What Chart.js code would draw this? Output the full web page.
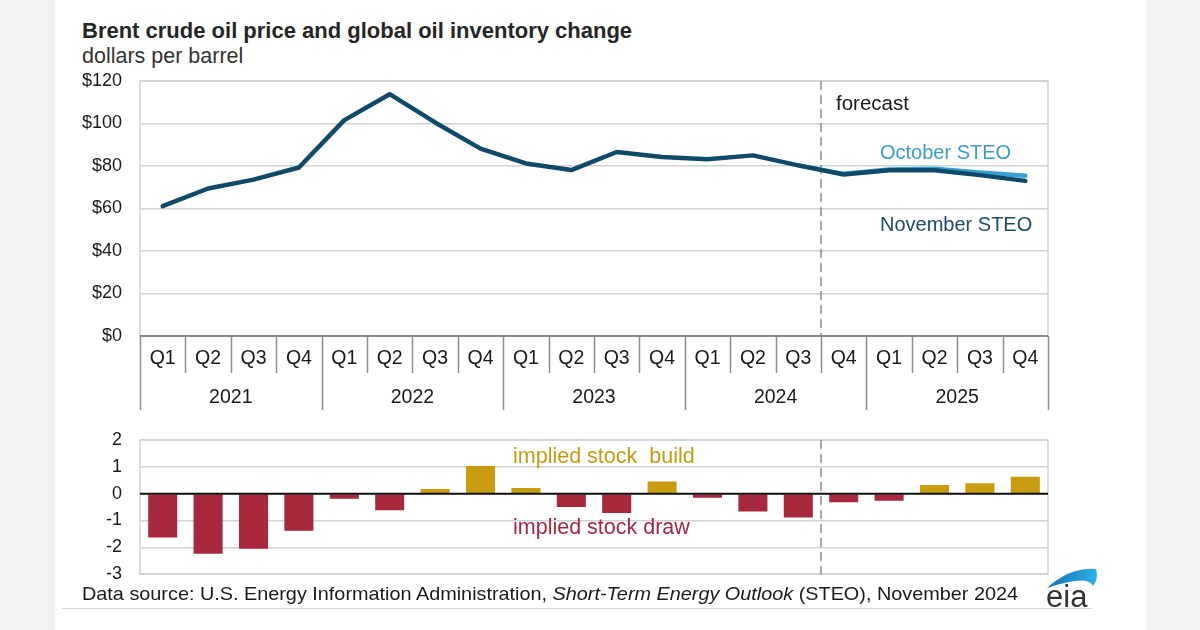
<!DOCTYPE html>
<html><head><meta charset="utf-8">
<script src="https://cdn.jsdelivr.net/npm/chart.js@4.4.1/dist/chart.umd.min.js"></script>
<style>
html,body{margin:0;padding:0;}
body{width:1200px;height:630px;background:#f2f2f2;position:relative;overflow:hidden;font-family:"Liberation Sans",Arial,sans-serif;}
#panel{position:absolute;left:55px;top:0;width:1092px;height:630px;background:#fff;}
canvas{position:absolute;left:0;}
.t{position:absolute;white-space:nowrap;line-height:1;}
</style></head><body>
<div id="panel"></div>
<div class="t" style="left:82px;top:20px;font-weight:bold;font-size:22px;color:#262626">Brent crude oil price and global oil inventory change</div>
<div class="t" style="left:82px;top:46px;font-size:21.5px;color:#333">dollars per barrel</div>
<canvas id="top" width="1200" height="420" style="top:0"></canvas>
<canvas id="bot" width="1200" height="160" style="top:425px"></canvas>
<div class="t" style="left:836px;top:93px;font-size:20.5px;color:#1a1a1a">forecast</div>
<div class="t" style="left:880px;top:142px;font-size:20px;color:#3d9cc9">October STEO</div>
<div class="t" style="left:880px;top:214px;font-size:20px;color:#1d4b68">November STEO</div>
<div class="t" style="left:513px;top:446px;font-size:21.5px;color:#c39c12">implied stock&nbsp; build</div>
<div class="t" style="left:513px;top:517px;font-size:21.5px;color:#a3293d">implied stock draw</div>
<div class="t" id="src" style="left:82px;top:584px;font-size:19px;color:#1a1a1a;transform-origin:0 0">Data source: U.S. Energy Information Administration, <i>Short-Term Energy Outlook</i> (STEO), November 2024</div>
<div style="position:absolute;left:62px;top:608px;width:1030px;height:1px;background:#d8d8d8"></div>
<svg style="position:absolute;left:1030px;top:555px" width="80" height="60">
 <defs><linearGradient id="g" x1="0" x2="1"><stop offset="0" stop-color="#1a6fb5"/><stop offset="1" stop-color="#2bb0e6"/></linearGradient></defs>
 <path d="M17,33 Q40,12 66,14 Q69,23 63,31 Q58,19 17,33 Z" fill="url(#g)"/>
 <text x="16" y="52" font-family="Liberation Sans, Arial" font-size="31" fill="#333">eia</text>
</svg>
<script>
const quarters = ['Q1','Q2','Q3','Q4','Q1','Q2','Q3','Q4','Q1','Q2','Q3','Q4','Q1','Q2','Q3','Q4','Q1','Q2','Q3','Q4'];
const years = ['2021','2022','2023','2024','2025'];
const priceTicks = [0,20,40,60,80,100,120];
const novemberSTEO = [61.1,69.4,73.6,79.3,101.6,113.8,100.5,88.2,81.2,78.1,86.6,84.2,83.2,85.0,80.3,76.0,78.0,78.0,75.7,73.0];
const octoberSTEO = [null,null,null,null,null,null,null,null,null,null,null,null,null,null,80.3,76.3,78.4,78.7,77.0,75.4];
const inventoryChange = [-1.63,-2.24,-2.05,-1.38,-0.19,-0.62,0.17,1.03,0.21,-0.50,-0.72,0.45,-0.15,-0.66,-0.89,-0.32,-0.26,0.32,0.39,0.63];
const forecastStart = 15;

const YFONT = {family:'"Liberation Sans", Arial, sans-serif', size:18};
const XFONT = {family:'"Liberation Sans", Arial, sans-serif', size:19.5};
const PLOT_LEFT = 140, PLOT_RIGHT = 1048;

const src = document.getElementById('src');
const sw = src.getBoundingClientRect().width;
src.style.transform = 'scaleX(' + (936/sw) + ')';

function boundaryX(xs, i){
  const n = quarters.length;
  const w = (xs.right - xs.left)/n;
  return xs.left + i*w;
}
const frame = {
  id:'frame',
  beforeDatasetsDraw(chart){
    const {ctx, chartArea:ca} = chart;
    ctx.save(); ctx.strokeStyle='#d2d2d2'; ctx.lineWidth=1.5;
    ctx.strokeRect(ca.left, ca.top, ca.right-ca.left, ca.bottom-ca.top);
    ctx.restore();
  }
};
const forecastLine = {
  id:'forecastLine',
  beforeDatasetsDraw(chart){
    const {ctx, chartArea:ca} = chart;
    const x = boundaryX(chart.scales.x, forecastStart);
    ctx.save(); ctx.strokeStyle='#8c8c8c'; ctx.lineWidth=1.5; ctx.setLineDash([9,5]);
    ctx.beginPath(); ctx.moveTo(x, ca.top); ctx.lineTo(x, ca.bottom); ctx.stroke();
    ctx.restore();
  }
};
const xHierarchy = {
  id:'xHierarchy',
  afterDraw(chart){
    const {ctx, chartArea:ca} = chart; const xs = chart.scales.x;
    ctx.save(); ctx.strokeStyle='#8c8c8c'; ctx.lineWidth=1.5;
    for(let i=0;i<=quarters.length;i++){
      const x = Math.round(boundaryX(xs,i))+0.5;
      ctx.beginPath(); ctx.moveTo(x, ca.bottom); ctx.lineTo(x, ca.bottom + (i%4===0?74:37)); ctx.stroke();
    }
    ctx.strokeStyle='#8a8a8a'; ctx.lineWidth=2;
    ctx.beginPath(); ctx.moveTo(ca.left, ca.bottom); ctx.lineTo(ca.right, ca.bottom); ctx.stroke();
    ctx.fillStyle='#1a1a1a'; ctx.font = '19.5px "Liberation Sans", Arial, sans-serif';
    ctx.textAlign='center'; ctx.textBaseline='middle';
    years.forEach((y,k)=>{
      const cx = (boundaryX(xs,4*k)+boundaryX(xs,4*k+4))/2;
      ctx.fillText(y, cx, ca.bottom+62);
    });
    ctx.restore();
  }
};
const zeroLine = {
  id:'zeroLine',
  afterDatasetsDraw(chart){
    const {ctx, chartArea:ca} = chart; const y = chart.scales.y.getPixelForValue(0);
    ctx.save(); ctx.strokeStyle='#111'; ctx.lineWidth=2;
    ctx.beginPath(); ctx.moveTo(ca.left, y); ctx.lineTo(ca.right, y); ctx.stroke(); ctx.restore();
  }
};
const yGrid = {color:'#d2d2d2', lineWidth:1.5, drawTicks:true, tickLength:18, tickColor:'rgba(0,0,0,0)'};

new Chart(document.getElementById('top'), {
  type:'line',
  data:{labels:quarters, datasets:[
    {label:'November STEO', data:novemberSTEO, borderColor:'#0f4a6b', borderWidth:4.5, pointRadius:0, tension:0, borderJoinStyle:'round', borderCapStyle:'round'},
    {label:'October STEO', data:octoberSTEO, borderColor:'#3a9fd0', borderWidth:4.5, pointRadius:0, tension:0, borderJoinStyle:'round', borderCapStyle:'round'}
  ]},
  options:{
    responsive:false, devicePixelRatio:1, animation:false,
    layout:{autoPadding:false, padding:{left:0, right:1200-PLOT_RIGHT, top:81, bottom:10}},
    plugins:{legend:{display:false}, tooltip:{enabled:false}},
    scales:{
      x:{offset:true, grid:{display:false}, border:{display:false},
         ticks:{font:XFONT, color:'#1a1a1a', padding:3, maxRotation:0, autoSkip:false},
         afterFit(s){ s.height = 74; }},
      y:{min:0, max:120, afterBuildTicks(s){ s.ticks = priceTicks.map(v=>({value:v})); },
         grid:yGrid, border:{display:false},
         ticks:{font:YFONT, color:'#1a1a1a', padding:0, callback:v=>'$'+v},
         afterFit(s){ s.width = PLOT_LEFT; }}
    }
  },
  plugins:[frame, forecastLine, xHierarchy]
});

new Chart(document.getElementById('bot'), {
  type:'bar',
  data:{labels:quarters, datasets:[
    {label:'inventory change', data:inventoryChange,
     backgroundColor:inventoryChange.map(v=>v<0?'#a8283d':'#c99c0f'),
     barPercentage:0.64, categoryPercentage:1.0}
  ]},
  options:{
    responsive:false, devicePixelRatio:1, animation:false,
    layout:{autoPadding:false, padding:{left:0, right:1200-PLOT_RIGHT, top:15, bottom:10}},
    plugins:{legend:{display:false}, tooltip:{enabled:false}},
    scales:{
      x:{display:false, offset:true},
      y:{min:-3, max:2, ticks:{stepSize:1, font:YFONT, color:'#1a1a1a', padding:0},
         grid:yGrid, border:{display:false},
         afterFit(s){ s.width = PLOT_LEFT; }}
    }
  },
  plugins:[frame, forecastLine, zeroLine]
});
</script>
</body></html>
